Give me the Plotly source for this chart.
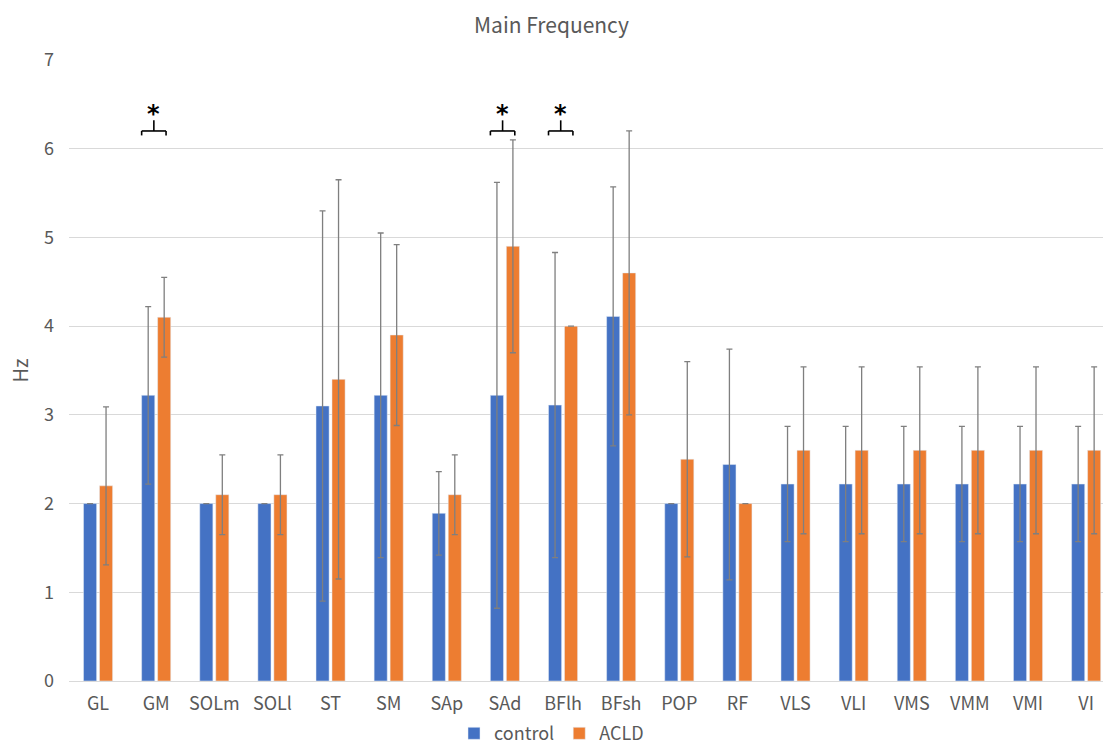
import plotly.graph_objects as go

categories = ["GL", "GM", "SOLm", "SOLl", "ST", "SM", "SAp", "SAd", "BFlh", "BFsh",
              "POP", "RF", "VLS", "VLI", "VMS", "VMM", "VMI", "VI"]
control_mean = [2.0, 3.22, 2.0, 2.0, 3.1, 3.22, 1.89, 3.22, 3.11, 4.11,
                2.0, 2.44, 2.22, 2.22, 2.22, 2.22, 2.22, 2.22]
control_sd = [0.0, 1.0, 0.0, 0.0, 2.2, 1.83, 0.47, 2.4, 1.72, 1.46,
              0.0, 1.3, 0.65, 0.65, 0.65, 0.65, 0.65, 0.65]
acld_mean = [2.2, 4.1, 2.1, 2.1, 3.4, 3.9, 2.1, 4.9, 4.0, 4.6,
             2.5, 2.0, 2.6, 2.6, 2.6, 2.6, 2.6, 2.6]
acld_sd = [0.89, 0.45, 0.45, 0.45, 2.25, 1.02, 0.45, 1.2, 0.0, 1.6,
           1.1, 0.0, 0.94, 0.94, 0.94, 0.94, 0.94, 0.94]
significant = ["GM", "SAd", "BFlh"]
y_ticks = [0, 1, 2, 3, 4, 5, 6, 7]

FONT = "Noto Sans CJK SC, Noto Sans, sans-serif"
GREY = "#595959"
idx = list(range(len(categories)))

fig = go.Figure()
fig.add_trace(go.Bar(
    name="control", x=idx, y=control_mean, marker_color="#4472C4",
    error_y=dict(type="data", array=control_sd, color="#7f7f7f", thickness=1.3, width=3),
))
fig.add_trace(go.Bar(
    name="ACLD", x=idx, y=acld_mean, marker_color="#ED7D31",
    error_y=dict(type="data", array=acld_sd, color="#7f7f7f", thickness=1.3, width=3),
))

# significance brackets
half = 0.21
base = 6.2
for name in significant:
    c = categories.index(name) - 0.04
    line = dict(color="black", width=1.6)
    fig.add_shape(type="line", x0=c - half, x1=c + half, y0=base, y1=base, xref="x", yref="y", line=line)
    fig.add_shape(type="line", x0=c - half, x1=c - half, y0=base, y1=base - 0.05, xref="x", yref="y", line=line)
    fig.add_shape(type="line", x0=c + half, x1=c + half, y0=base, y1=base - 0.05, xref="x", yref="y", line=line)
    fig.add_shape(type="line", x0=c, x1=c, y0=base, y1=base + 0.12, xref="x", yref="y", line=line)
    fig.add_annotation(x=c, y=base + 0.01, text="<b>*</b>", showarrow=False, xref="x", yref="y",
                       yanchor="bottom", font=dict(size=24, color="black", family="DejaVu Sans"))

fig.update_layout(
    width=1103, height=744,
    paper_bgcolor="white", plot_bgcolor="white",
    margin=dict(l=69, r=0, t=60, b=63, autoexpand=False),
    barmode="group", bargap=0.45, bargroupgap=0.18,
    font=dict(family=FONT, color=GREY, size=17),
    title=dict(text="Main Frequency", x=0.5, xref="container", xanchor="center",
               y=0.966, yref="container", yanchor="middle",
               font=dict(size=21, color=GREY, family=FONT)),
    legend=dict(orientation="h", x=0.5, xref="container", xanchor="center",
                y=0.014, yref="container", yanchor="middle", itemwidth=30,
                font=dict(size=18, color=GREY, family=FONT), traceorder="normal"),
    showlegend=True,
)
fig.update_xaxes(
    tickmode="array", tickvals=idx, ticktext=categories, automargin=False,
    range=[-0.5, 17.29], showgrid=False, showline=True, linecolor="#D9D9D9", linewidth=1,
    ticks="", tickfont=dict(size=18, color=GREY), ticklabelstandoff=6, zeroline=False,
)
fig.update_yaxes(
    range=[0, 7], tickvals=y_ticks, showgrid=True, gridcolor="#D9D9D9", gridwidth=1,
    zeroline=False, showline=False, ticks="", automargin=False,
    tickfont=dict(size=18, color=GREY), ticklabelstandoff=14,
    title=dict(text="Hz", font=dict(size=20, color=GREY), standoff=10),
)

fig.write_html("out.html", config={"displayModeBar": False},
               post_script="document.body.style.margin='0';")
